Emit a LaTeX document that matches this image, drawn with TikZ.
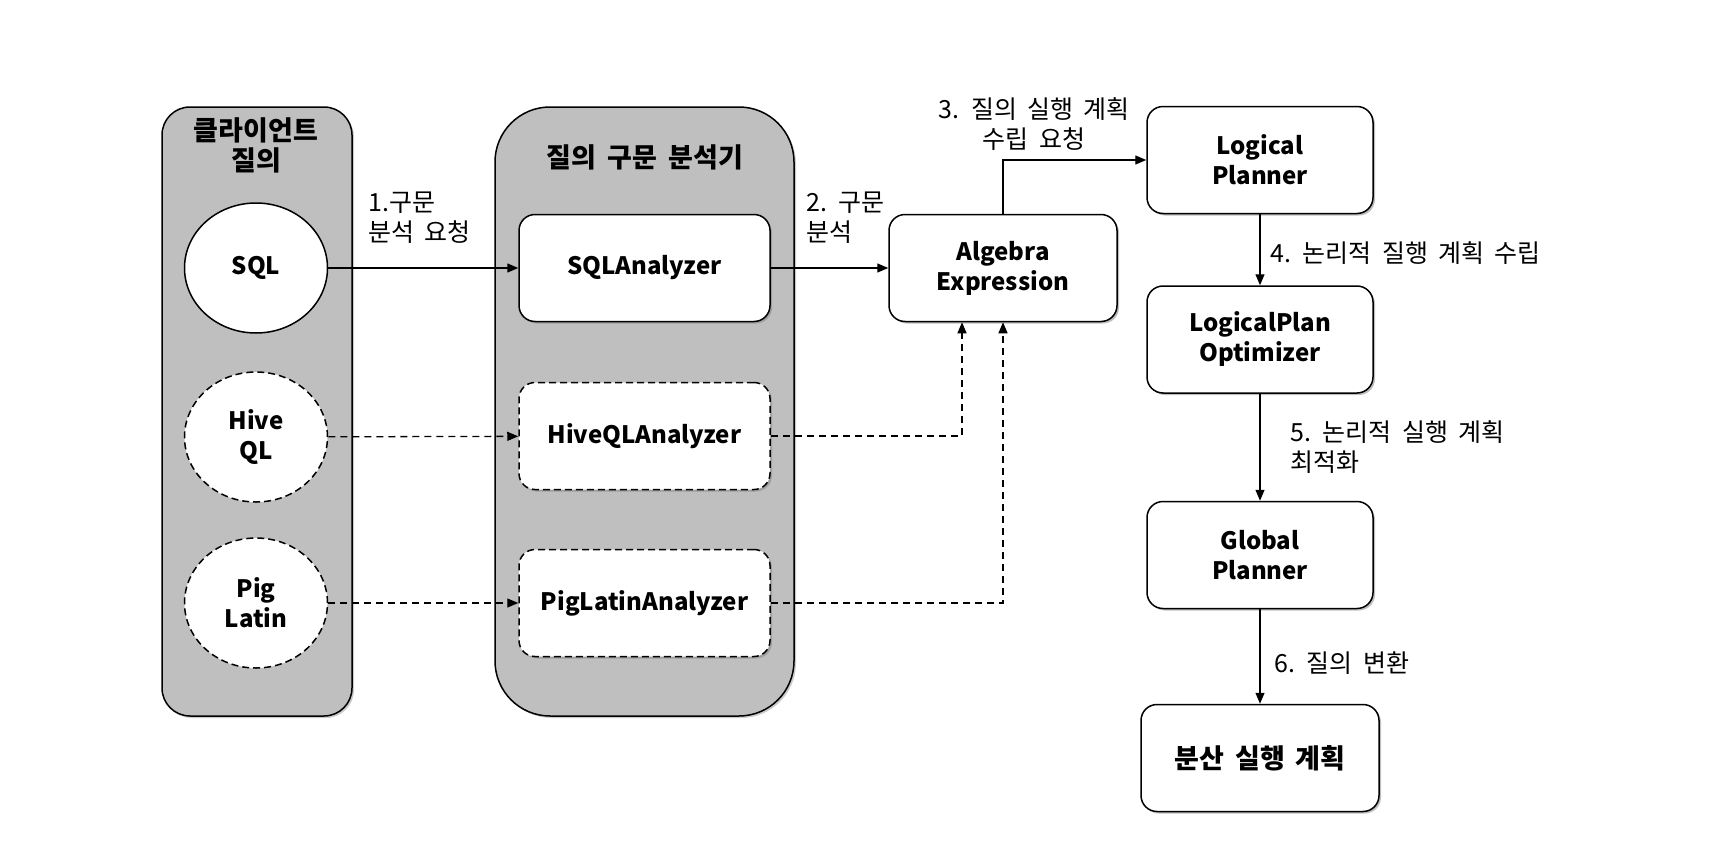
\documentclass[tikz,border=0pt]{standalone}
\usepackage{fontspec}
\setmainfont{Noto Sans CJK KR}[WordSpace=1.8]
\usetikzlibrary{arrows.meta,shapes.geometric,shadows}

\tikzset{
	panel/.style={draw, line width=1.5pt, fill=black!25},
	planbox/.style={draw, line width=1.5pt, fill=white, rounded corners=16pt,
		minimum height=107pt, align=center,
		font=\bfseries\fontsize{24}{30}\selectfont,
		drop shadow={shadow xshift=2pt, shadow yshift=-2pt, opacity=0.5}},
	dashbox/.style={planbox, dash pattern=on 7pt off 4pt},
	source/.style={ellipse, draw, line width=1.5pt, fill=white,
		minimum width=143pt, minimum height=130pt, align=center,
		font=\bfseries\fontsize{24}{30}\selectfont},
	dsource/.style={source, dash pattern=on 7pt off 4pt},
	title/.style={align=center, font=\bfseries\fontsize{27}{30}\selectfont},
	flow/.style={line width=1.3pt, -{Triangle[length=11pt,width=9pt]}},
	dflow/.style={flow, dash pattern=on 7pt off 5pt},
	steplabel/.style={align=left, inner sep=0pt, font=\fontsize{25}{30}\selectfont}
}

\begin{document}
\begin{tikzpicture}[x=1pt,y=-1pt]
	\useasboundingbox (0,0) rectangle (1724,862);

	% Rahmen links und Mitte
	\node[panel, rounded corners=28pt, minimum width=190pt, minimum height=609pt,
		drop shadow={shadow xshift=2pt, shadow yshift=-2pt, opacity=0.4}] (clientpanel) at (257,411.5) {};
	\node[panel, rounded corners=55pt, minimum width=299pt, minimum height=609pt,
		drop shadow={shadow xshift=2pt, shadow yshift=-2pt, opacity=0.4}] (parserpanel) at (644.5,411.5) {};
	\node[title] (clienttitle) at (256,145) {클라이언트\\질의};
	\node[title] (parsertitle) at (645,157) {질의 구문 분석기};

	% Anfragen
	\node[source] (sql) at (256,268) {SQL};
	\node[dsource] (hive) at (256,437) {Hive\\QL};
	\node[dsource] (pig) at (256,603) {Pig\\Latin};

	% Analyzer
	\node[planbox, minimum width=251pt] (sqlana) at (644.5,268) {SQLAnalyzer};
	\node[dashbox, minimum width=251pt] (hiveana) at (644.5,436) {HiveQLAnalyzer};
	\node[dashbox, minimum width=251pt] (pigana) at (644.5,603) {PigLatinAnalyzer};

	% Planer-Kette
	\node[planbox, minimum width=228pt] (alg) at (1003,268) {Algebra\\Expression};
	\node[planbox, minimum width=226pt] (lp) at (1260,160) {Logical\\Planner};
	\node[planbox, minimum width=226pt] (lpo) at (1260,339.5) {LogicalPlan\\Optimizer};
	\node[planbox, minimum width=226pt] (gp) at (1260,555) {Global\\Planner};
	\node[planbox, minimum width=238pt, font=\bfseries\fontsize{27}{30}\selectfont] (dplan) at (1260,758) {분산 실행 계획};

	% Pfeile
	\draw[flow] (sql) -- (sqlana);
	\draw[dflow] (hive) -- (hiveana);
	\draw[dflow] (pig) -- (pigana);
	\draw[flow] (sqlana) -- (alg);
	\draw[dflow] (hiveana.east) -| ([xshift=-41pt]alg.south);
	\draw[dflow] (pigana.east) -| (alg.south);
	\draw[flow] (alg.north) |- (lp.west);
	\draw[flow] (lp) -- (lpo);
	\draw[flow] (lpo) -- (gp);
	\draw[flow] (gp) -- (dplan);

	% Beschriftungen
	\node[steplabel, anchor=west] (l1) at (368,218) {1.구문\\분석 요청};
	\node[steplabel, anchor=west] (l2) at (806,218) {2. 구문\\분석};
	\node[steplabel, align=center] (l3) at (1034,124) {3. 질의 실행 계획\\수립 요청};
	\node[steplabel, anchor=west] (l4) at (1270,253) {4. 논리적 질행 계획 수립};
	\node[steplabel, anchor=west] (l5) at (1290,447) {5. 논리적 실행 계획\\최적화};
	\node[steplabel, anchor=west] (l6) at (1274,663) {6. 질의 변환};
\end{tikzpicture}
\end{document}
